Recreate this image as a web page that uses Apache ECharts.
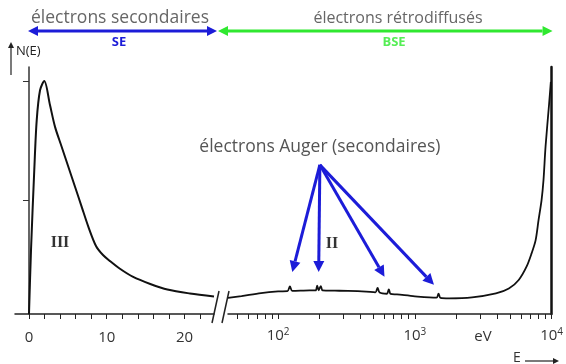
<!DOCTYPE html>
<html>
<head>
<meta charset="utf-8">
<script src="https://cdn.jsdelivr.net/npm/echarts@6/dist/echarts.min.js"></script>
<style>
  html, body { margin: 0; padding: 0; background: #fff; }
  #chart { width: 566px; height: 364px; }
</style>
</head>
<body>
<div id="chart"></div>
<script>
// low energy part : secondary electrons, linear energy scale (eV)
const seEnergy = [0, 0.26, 0.68, 0.99, 1.42, 1.97, 2.7, 3.35, 4.2, 5.06, 5.92, 6.78, 7.63, 8.62,
                  9.52, 10.42, 11.7, 13.4, 15.6, 17.8, 20.7, 23.8];
const seCount  = [0, 27.5, 61.8, 83, 96, 100, 89.7, 80.3, 71.8, 63.2, 54.6, 46, 37.5, 29.2,
                  25.3, 22.7, 19.4, 15.9, 12.9, 10.5, 8.8, 7.5];

// high energy part : log energy scale (eV), with the small Auger peaks
const bseEnergy = [43, 54, 75, 100, 117, 122, 127, 170, 188, 193, 198, 205, 212, 260, 324, 440,
                   515, 534, 553, 625, 645, 665, 740, 1000, 1440, 1490, 1540, 1780, 2620, 3920,
                   4870, 5750, 6560, 7140, 7640, 8030, 8450, 8730, 9040, 9590, 9880];
const bseCount  = [6.9, 7.7, 9.0, 9.7, 9.8, 11.8, 9.9, 10.1, 10.1, 12.2, 10.2, 12.0, 10.1, 10.0, 9.9, 9.6,
                   9.3, 11.2, 9.2, 8.7, 10.6, 8.6, 8.4, 7.6, 7.0, 8.7, 6.9, 6.7, 7.1, 8.8,
                   10.9, 14.6, 20.3, 26, 31.6, 40.3, 48.9, 57.5, 72, 90, 99.6];

// axis ticks and labels
const linTicks = [0, 2, 4, 6, 8, 10, 12, 14, 16, 18, 20, 22];
const linLabels = [0, 10, 20];
const logTicks = [50, 60, 70, 80, 90, 100, 200, 300, 400, 500, 600, 700, 800, 900,
                  1000, 2000, 3000, 4000, 5000, 6000, 7000, 8000, 9000, 10000];
const logLabels = [100, 1000, 10000];
const yTicks = [49, 100];

// Auger arrows : where they start and where they point (eV, N)
const augerFrom = [202, 64];
const augerTipE = [127, 198, 600, 1380];
const augerTipN = [18, 18, 16, 12.5];

const FONT = '"Open Sans", sans-serif';
const BLUE = '#1c1cd8';
const GREEN = '#30e830';

const chart = echarts.init(document.getElementById('chart'));

const option = {
  animation: false,
  grid: [
    { left: 15, top: 67, width: 199, bottom: 50 },
    { left: 228, top: 67, right: 13, bottom: 50 }
  ],
  xAxis: [{
    gridIndex: 0,
    type: 'value',
    min: -1.8,
    max: 23.8,
    axisLine: { onZero: false, lineStyle: { color: '#222', width: 1.5 } },
    axisTick: { customValues: linTicks, length: 5, lineStyle: { color: '#222' } },
    axisLabel: { customValues: linLabels, margin: 16, color: '#333', fontSize: 15, fontFamily: FONT },
    splitLine: { show: false }
  }, {
    gridIndex: 1,
    type: 'value',
    min: Math.log10(43),
    max: 4,
    axisLine: { onZero: false, lineStyle: { color: '#222', width: 1.5 } },
    axisTick: { customValues: logTicks.map(v => Math.log10(v)), length: 5, lineStyle: { color: '#222' } },
    axisLabel: {
      customValues: logLabels.map(v => Math.log10(v)),
      margin: 13,
      color: '#333',
      fontSize: 15,
      fontFamily: FONT,
      lineHeight: 18,
      formatter: v => '10{s|' + Math.round(v) + '}',
      rich: { s: { fontSize: 10, lineHeight: 10, verticalAlign: 'top', color: '#333', fontFamily: FONT } }
    },
    splitLine: { show: false }
  }],
  yAxis: [{
    gridIndex: 0,
    type: 'value',
    min: 0,
    max: 106,
    axisLine: { show: true, onZero: true, lineStyle: { color: '#333', width: 1.5 } },
    axisTick: { show: true, customValues: yTicks, length: 6, lineStyle: { color: '#333' } },
    axisLabel: { show: false },
    splitLine: { show: false }
  }, {
    gridIndex: 1,
    type: 'value',
    position: 'right',
    min: 0,
    max: 106,
    axisLine: { show: true, onZero: false, lineStyle: { color: '#111', width: 2.5 } },
    axisTick: { show: false },
    axisLabel: { show: false },
    splitLine: { show: false }
  }],
  series: [{
    type: 'line',
    xAxisIndex: 0,
    yAxisIndex: 0,
    smooth: 0.3,
    showSymbol: false,
    lineStyle: { color: '#111', width: 2 },
    data: seEnergy.map((e, i) => [e, seCount[i]])
  }, {
    type: 'line',
    xAxisIndex: 1,
    yAxisIndex: 1,
    smooth: 0.3,
    showSymbol: false,
    lineStyle: { color: '#111', width: 1.8 },
    data: bseEnergy.map((e, i) => [Math.log10(e), bseCount[i]])
  }]
};
chart.setOption(option);

// arrow = line + triangle head
function arrow(x1, y1, x2, y2, color, w, head) {
  const a = Math.atan2(y2 - y1, x2 - x1);
  const bx = x2 - head * Math.cos(a), by = y2 - head * Math.sin(a);
  const hw = head * 0.5;
  return [
    { type: 'line', silent: true, shape: { x1: x1, y1: y1, x2: bx, y2: by }, style: { stroke: color, lineWidth: w } },
    { type: 'polygon', silent: true,
      shape: { points: [[x2, y2], [bx - hw * Math.sin(a), by + hw * Math.cos(a)], [bx + hw * Math.sin(a), by - hw * Math.cos(a)]] },
      style: { fill: color } }
  ];
}
function text(x, y, str, font, color, align) {
  return { type: 'text', x: x, y: y, silent: true,
    style: { text: str, font: font, fill: color, align: align || 'center', verticalAlign: 'middle' } };
}

const logPx = (e, n) => chart.convertToPixel({ xAxisIndex: 1, yAxisIndex: 1 }, [Math.log10(e), n]);
const linPx = (e, n) => chart.convertToPixel({ xAxisIndex: 0, yAxisIndex: 0 }, [e, n]);

let g = [];
// top ranges
const x0 = linPx(0, 0)[0];
const xEnd = logPx(10000, 0)[0];
g = g.concat(arrow(122, 31, x0 - 1, 31, BLUE, 3, 10), arrow(122, 31, 217, 31, BLUE, 3, 10));
g = g.concat(arrow(385, 31, 218, 31, GREEN, 3, 10), arrow(385, 31, xEnd + 1, 31, GREEN, 3, 10));
g.push(text(120, 18, 'électrons secondaires', '17.5px ' + FONT, '#666'));
g.push(text(398, 18, 'électrons rétrodiffusés', '16px ' + FONT, '#666'));
g.push(text(119, 42, 'SE', 'bold 13px ' + FONT, BLUE));
g.push(text(394, 42, 'BSE', 'bold 13px ' + FONT, '#55ee55'));

// y axis title
g = g.concat(arrow(11, 75, 11, 42, '#222', 1.2, 6));
g.push(text(16, 51, 'N(E)', '13px ' + FONT, '#222', 'left'));

// axis break
g.push({ type: 'line', silent: true, shape: { x1: 212, y1: 323, x2: 219, y2: 291 }, style: { stroke: '#222', lineWidth: 1.5 } });
g.push({ type: 'line', silent: true, shape: { x1: 222, y1: 323, x2: 229, y2: 291 }, style: { stroke: '#222', lineWidth: 1.5 } });

// units and energy arrow
g.push(text(483, 337, 'eV', '15px ' + FONT, '#333'));
g.push(text(517, 358, 'E', '14px ' + FONT, '#333'));
g = g.concat(arrow(525, 361, 559, 361, '#222', 1.2, 6));

// Auger annotation
const from = logPx(augerFrom[0], augerFrom[1]);
g.push(text(from[0], 147, 'électrons Auger (secondaires)', '17.5px ' + FONT, '#555'));
augerTipE.forEach((e, i) => {
  const p = logPx(e, augerTipN[i]);
  g = g.concat(arrow(from[0], from[1], p[0], p[1], BLUE, 3, 11));
});

// regions
g.push(text(60, 243, 'III', 'bold 16px "Liberation Serif", serif', '#333'));
g.push(text(332, 244, 'II', 'bold 16px "Liberation Serif", serif', '#333'));

chart.setOption({ graphic: { elements: g } });
</script>
</body>
</html>
